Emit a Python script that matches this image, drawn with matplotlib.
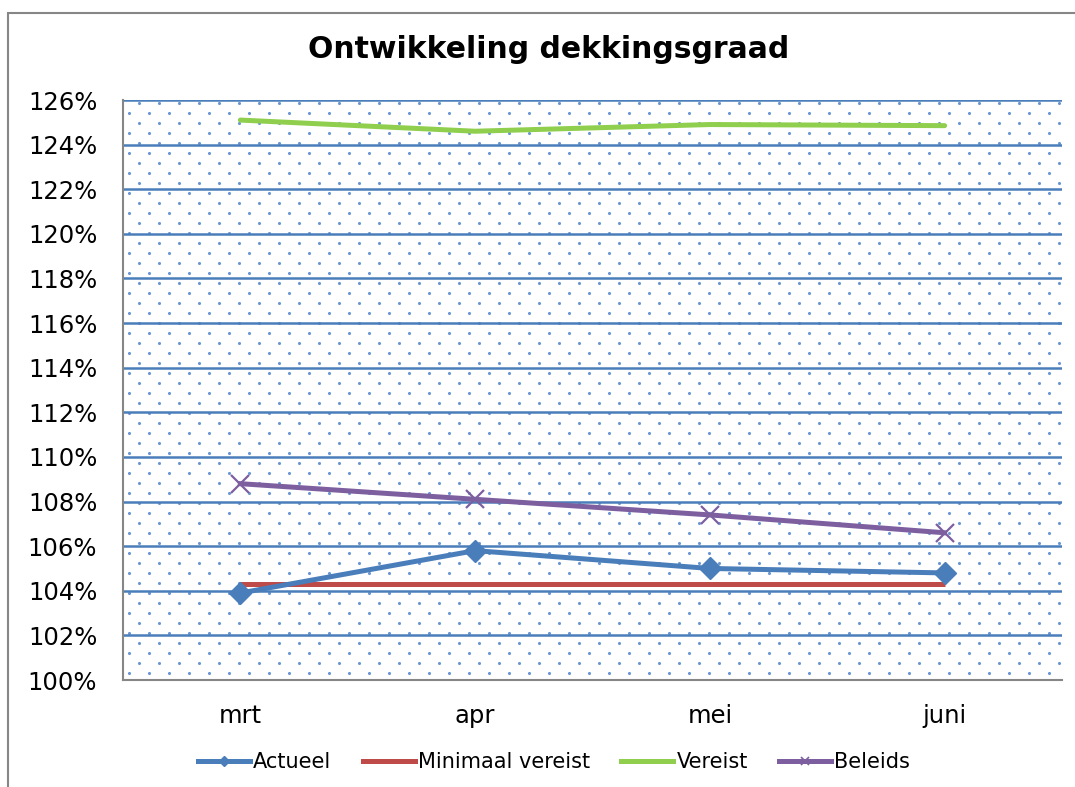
import numpy as np
import matplotlib
matplotlib.use("Agg")
import matplotlib.pyplot as plt
from matplotlib.lines import Line2D
from matplotlib.patches import Rectangle

months = ["mrt", "apr", "mei", "juni"]
actueel = [103.9, 105.8, 105.0, 104.8]
minimaal = [104.3, 104.3, 104.3, 104.3]
vereist = [125.1, 124.6, 124.9, 124.85]
beleids = [108.8, 108.1, 107.4, 106.6]
yticks = list(range(100, 127, 2))

W, H = 1075, 787
fig = plt.figure(figsize=(W / 100, H / 100), dpi=100)
plt.rcParams['font.family'] = ['DejaVu Sans']

# outer chart frame (right/bottom edges fall outside the image)
fig.patches.append(Rectangle((8 / W, -0.05), 1.2, 1 - 13 / H + 0.05,
                             transform=fig.transFigure, fill=False,
                             edgecolor="#868686", linewidth=1.5))

left, right, top, bottom = 123, 1062, 100, 680
ax = fig.add_axes([left / W, 1 - bottom / H, (right - left) / W, (bottom - top) / H])

# dotted background pattern
aw, ah = right - left, bottom - top
xs_list, ys_list = [], []
row = 0
for yp in np.arange(3, ah, 10):
    off = 16 if row % 2 == 0 else 6
    for xp in np.arange(off, aw, 20):
        xs_list.append(xp / aw)
        ys_list.append(1 - yp / ah)
    row += 1
ax.scatter(xs_list, ys_list, s=5, color="#6a97d4", transform=ax.transAxes,
           linewidths=0, zorder=0.5)

x = np.arange(len(months))
ax.set_xlim(-0.5, len(months) - 0.5)
ax.set_ylim(100, 126)
ax.set_yticks(yticks)
ax.set_yticklabels([f"{v}%" for v in yticks])
ax.set_xticks(x)
ax.set_xticklabels(months)

ax.grid(axis="y", color="#4a7ebb", linewidth=1.8, zorder=1)
ax.set_axisbelow(True)
for s in ["top", "right"]:
    ax.spines[s].set_visible(False)
ax.spines["left"].set_color("#868686")
ax.spines["bottom"].set_color("#868686")
ax.spines["left"].set_linewidth(1.5)
ax.spines["bottom"].set_linewidth(1.5)
ax.tick_params(axis="both", length=0, labelsize=17.5)
ax.tick_params(axis="y", pad=18.5)
ax.tick_params(axis="x", pad=17)

c_act, c_min, c_ver, c_bel = "#4a7ebb", "#be4b48", "#8fcf4d", "#7d5fa0"
ax.plot(x, minimaal, color=c_min, linewidth=3.6, zorder=3, solid_capstyle="butt")
ax.plot(x, vereist, color=c_ver, linewidth=3.6, zorder=3, solid_capstyle="round")
ax.plot(x, beleids, color=c_bel, linewidth=3.6, zorder=3, marker="x",
        markersize=13, markeredgewidth=1.6)
ax.plot(x, actueel, color=c_act, linewidth=3.6, zorder=4, marker="D",
        markersize=11)

handles = [
    Line2D([], [], color=c_act, lw=3.6, marker="D", ms=5),
    Line2D([], [], color=c_min, lw=3.6),
    Line2D([], [], color=c_ver, lw=3.6),
    Line2D([], [], color=c_bel, lw=3.6, marker="x", ms=6, mew=1.2),
]
fig.legend(handles, ["Actueel", "Minimaal vereist", "Vereist", "Beleids"],
           loc="center", bbox_to_anchor=(554 / W, 1 - 762 / H), ncol=4,
           frameon=False, fontsize=15, handlelength=2.5, handletextpad=0.15,
           columnspacing=1.5)

fig.text(549 / W, 1 - 50 / H, "Ontwikkeling dekkingsgraad", ha="center",
         va="center", fontsize=21.5, fontweight="bold")

fig.savefig("out.png", dpi=100)
